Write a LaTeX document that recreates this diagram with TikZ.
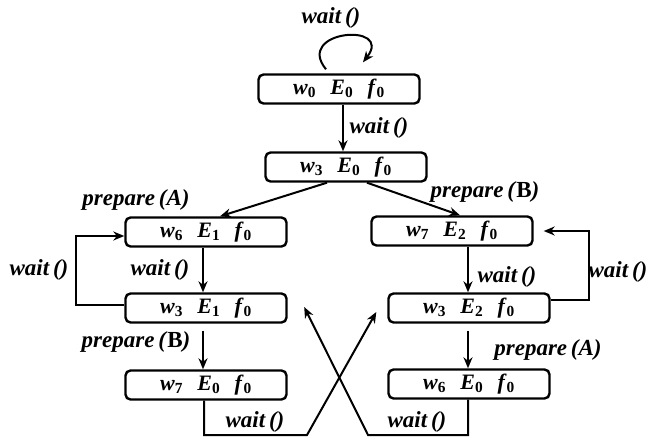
\documentclass[tikz,border=0pt]{standalone}
\usepackage{fontspec}
\setmainfont{Liberation Serif}
\usetikzlibrary{arrows.meta,calc}
\newcommand\wef[3]{\textit{w}\textsubscript{#1}\hspace{0.65em}\textit{E}\textsubscript{#2}\hspace{0.65em}\textit{f}\textsubscript{#3}}
\tikzset{
  >={Stealth[length=11pt,width=9pt]},
  state/.style={draw,line width=2.4pt,rounded corners=5pt,minimum width=161pt,minimum height=29pt,inner sep=0pt,font=\fontsize{22}{24}\selectfont\bfseries},
  edge/.style={->,line width=2pt},
  lbl/.style={font=\fontsize{23}{26}\selectfont\bfseries\itshape,inner sep=1pt}
}
\begin{document}
\begin{tikzpicture}[x=1pt,y=-1pt]
  \useasboundingbox (0,0) rectangle (648,441);
  % states
  \node[state] (s0) at (339,89) {\wef000};
  \node[state] (s1) at (346,167) {\wef300};
  \node[state] (a1) at (206,232) {\wef610};
  \node[state] (a2) at (206,308) {\wef310};
  \node[state] (a3) at (206,385) {\wef700};
  \node[state] (b1) at (452,231) {\wef720};
  \node[state] (b2) at (469,308) {\wef320};
  \node[state] (b3) at (469,384) {\wef600};
  \coordinate (xl) at (307,435);
  \coordinate (xr) at (368,435);
  % labels
  \node[lbl] (l0) at (331,18) {wait\,()};
  \node[lbl] (l1) at (379,128) {wait\,()};
  \node[lbl] (l2) at (136,200) {prepare\,(A)};
  \node[lbl] (l3) at (485,192) {prepare\,(\textup{B})};
  \node[lbl] (l4) at (160,270) {wait\,()};
  \node[lbl] (l5) at (39,270) {wait\,()};
  \node[lbl] (l6) at (136,342) {prepare\,(\textup{B})};
  \node[lbl] (l7) at (507,277) {wait\,()};
  \node[lbl] (l8) at (618,272) {wait\,()};
  \node[lbl] (l9) at (548,350) {prepare\,(A)};
  \node[lbl] (l10) at (255,422) {wait\,()};
  \node[lbl] (l11) at (417,422) {wait\,()};
  % transitions
    \draw[edge] ([xshift=-13pt,yshift=4pt]s0.north) .. controls (294,30) and (394,22) .. ([xshift=24pt,yshift=11pt]s0.north);
    \draw[edge] ([xshift=4pt]s0.south)--([xshift=-3pt]s1.north);
    \draw[edge] ([xshift=-19pt]s1.south)--([xshift=14pt]a1.north);
    \draw[edge] ([xshift=21pt]s1.south)--([xshift=8pt]b1.north);
    \draw[edge] ([xshift=-3pt]a1.south)--([xshift=-3pt]a2.north);
    \draw[edge] ([xshift=-3pt,yshift=-7pt]a2.south)--([xshift=-3pt]a3.north);
    \draw[edge] ([yshift=3pt]a2.west)--++(-48,0)|-([yshift=-4pt]a1.west);
    \draw[edge] ([xshift=16pt]b1.south)--([xshift=-1pt]b2.north);
    \draw[edge] ([xshift=-1pt,yshift=-7pt]b2.south)--([xshift=-1pt]b3.north);
    \draw[edge,shorten >=10pt] ([yshift=8pt]b2.east)--++(38,0)|-(b1.east);
    \draw[edge] ([xshift=-2pt]a3.south)|-(xl)--([xshift=-11pt,yshift=-4pt]b2.west);
    \draw[edge] ([xshift=-1pt]b3.south)|-(xr)--([xshift=16.5pt,yshift=1pt]a2.east);
\end{tikzpicture}
\end{document}
